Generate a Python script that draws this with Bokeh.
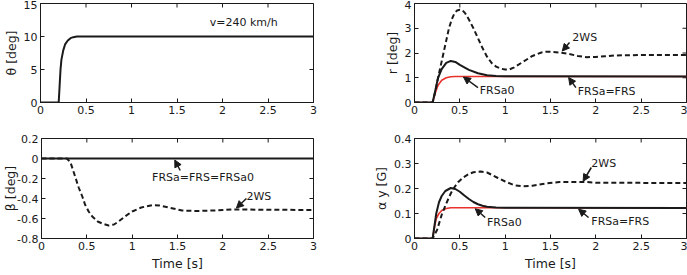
from bokeh.plotting import figure
from bokeh.layouts import column, row
from bokeh.models import Range1d, FixedTicker, Arrow, NormalHead, Label
from bokeh.embed import file_html
from bokeh.resources import INLINE

# ---------------- data ----------------
time_ticks = [0, 0.5, 1, 1.5, 2, 2.5, 3]
time_labels = ["0", "0.5", "1", "1.5", "2", "2.5", "3"]

theta_ticks = [0, 5, 10, 15]
theta_labels = ["0", "5", "10", "15"]
r_ticks = [0, 1, 2, 3, 4]
r_labels = ["0", "1", "2", "3", "4"]
beta_ticks = [0.2, 0, -0.2, -0.4, -0.6, -0.8]
beta_labels = ["0.2", "0", "-0.2", "-0.4", "-0.6", "-0.8"]
ay_ticks = [0, 0.1, 0.2, 0.3, 0.4]
ay_labels = ["0", "0.1", "0.2", "0.3", "0.4"]

# steering angle input
t_theta = [0, 0.2, 0.21, 0.22, 0.23, 0.25, 0.27, 0.30, 0.33, 0.36, 0.40, 0.45, 3.0]
theta = [0, 0, 2.5, 5.0, 6.5, 7.9, 8.8, 9.4, 9.75, 9.9, 10.0, 10.0, 10.0]

# yaw rate
t_r_2ws = [0, 0.2, 0.23, 0.26, 0.29, 0.32, 0.35, 0.38, 0.41, 0.44, 0.47, 0.5, 0.53,
           0.56, 0.6, 0.65, 0.7, 0.75, 0.8, 0.85, 0.9, 0.95, 1.0, 1.05, 1.1, 1.2,
           1.3, 1.4, 1.45, 1.5, 1.6, 1.7, 1.8, 1.9, 2.0, 2.1, 2.2, 2.5, 3.0]
r_2ws = [0, 0, 0.45, 1.0, 1.5, 2.0, 2.5, 3.0, 3.35, 3.6, 3.72, 3.75, 3.72,
         3.6, 3.35, 3.0, 2.6, 2.2, 1.85, 1.6, 1.45, 1.37, 1.33, 1.34, 1.42, 1.65,
         1.88, 2.02, 2.05, 2.05, 2.02, 1.97, 1.88, 1.83, 1.84, 1.87, 1.9, 1.92, 1.92]
t_r_frs = [0, 0.2, 0.23, 0.26, 0.3, 0.35, 0.4, 0.45, 0.5, 0.6, 0.7, 0.8, 0.9, 1.0, 3.0]
r_frs = [0, 0, 0.5, 1.0, 1.35, 1.6, 1.68, 1.64, 1.52, 1.32, 1.18, 1.1, 1.07, 1.06, 1.05]
t_r_frsa0 = [0, 0.2, 0.23, 0.26, 0.3, 0.35, 0.4, 0.45, 3.0]
r_frsa0 = [0, 0, 0.4, 0.7, 0.9, 1.0, 1.04, 1.05, 1.05]

# side slip angle
t_b_2ws = [0, 0.28, 0.32, 0.36, 0.41, 0.45, 0.48, 0.52, 0.56, 0.62, 0.67, 0.74, 0.8,
           0.85, 0.92, 1.0, 1.1, 1.22, 1.3, 1.4, 1.55, 1.7, 1.9, 2.0, 2.1, 3.0]
b_2ws = [0, 0, -0.04, -0.15, -0.29, -0.38, -0.46, -0.53, -0.58, -0.63, -0.65, -0.67, -0.66,
         -0.63, -0.58, -0.53, -0.49, -0.467, -0.47, -0.49, -0.52, -0.525, -0.52, -0.515, -0.51, -0.515]
t_b_frs = [0, 3.0]
b_frs = [0, 0]

# lateral acceleration
t_a_2ws = [0, 0.2, 0.25, 0.3, 0.35, 0.4, 0.43, 0.48, 0.54, 0.6, 0.65, 0.73, 0.8, 0.85,
           0.92, 1.0, 1.1, 1.2, 1.3, 1.45, 1.6, 1.9, 2.0, 3.0]
a_2ws = [0, 0, 0.035, 0.095, 0.14, 0.18, 0.2, 0.225, 0.245, 0.258, 0.265, 0.268, 0.264, 0.255,
         0.242, 0.228, 0.213, 0.209, 0.211, 0.22, 0.226, 0.226, 0.223, 0.222]
t_a_frs = [0, 0.2, 0.22, 0.24, 0.27, 0.3, 0.34, 0.4, 0.45, 0.5, 0.55, 0.6, 0.65, 0.7,
           0.75, 0.8, 0.9, 1.0, 3.0]
a_frs = [0, 0, 0.05, 0.1, 0.145, 0.17, 0.19, 0.202, 0.198, 0.187, 0.172, 0.158, 0.146, 0.137,
         0.131, 0.127, 0.124, 0.123, 0.122]
t_a_frsa0 = [0, 0.2, 0.22, 0.24, 0.27, 0.3, 0.35, 0.4, 3.0]
a_frsa0 = [0, 0, 0.045, 0.08, 0.1, 0.112, 0.12, 0.123, 0.123]

FONT = "DejaVu Sans"
INK = "#1a1a1a"
RED = "#e8322b"


def styled_axis(ax, ticks, labels):
    ax.ticker = FixedTicker(ticks=ticks)
    ax.major_label_overrides = {t: l for t, l in zip(ticks, labels)}
    ax.major_tick_in = 4
    ax.major_tick_out = 0
    ax.minor_tick_in = 0
    ax.minor_tick_out = 0
    ax.axis_line_color = INK
    ax.major_tick_line_color = INK
    ax.major_label_text_font = FONT
    ax.major_label_text_color = INK
    ax.major_label_text_font_size = "11px"
    ax.major_label_standoff = 3
    ax.axis_label_text_font = FONT
    ax.axis_label_text_font_style = "normal"
    ax.axis_label_text_color = INK


def make_panel(width, height, yr, yticks, ylabels, ylabel, xlabel, borders):
    left, right, top, bottom = borders
    p = figure(width=width, height=height, x_range=Range1d(0, 3), y_range=Range1d(*yr),
               output_backend="svg", toolbar_location=None,
               min_border_left=left, min_border_right=right,
               min_border_top=top, min_border_bottom=bottom)
    p.grid.visible = False
    p.outline_line_color = INK
    p.background_fill_color = "white"
    p.border_fill_color = "white"
    styled_axis(p.xaxis[0], time_ticks, time_labels)
    styled_axis(p.yaxis[0], yticks, ylabels)
    p.yaxis[0].axis_label = ylabel
    p.yaxis[0].axis_label_text_font_size = "12.5px"
    p.yaxis[0].axis_label_standoff = 2
    if xlabel:
        p.xaxis[0].axis_label = xlabel
        p.xaxis[0].axis_label_text_font_size = "12.5px"
        p.xaxis[0].axis_label_standoff = 3
    # inward tick marks on the top and right edges of the box (half falls outside and is clipped)
    p.scatter(time_ticks, [yr[1]] * len(time_ticks), marker="dash", angle=1.5708,
              size=8, line_color=INK, line_width=1)
    p.scatter([3] * len(yticks), yticks, marker="dash", size=8, line_color=INK, line_width=1)
    return p


def note(p, x, y, text):
    p.add_layout(Label(x=x, y=y, text=text, text_font=FONT, text_font_size="11px",
                       text_color=INK, text_baseline="middle", text_align="left"))


def pointer(p, x0, y0, x1, y1):
    p.add_layout(Arrow(x_start=x0, y_start=y0, x_end=x1, y_end=y1, line_width=1.5,
                       line_color=INK,
                       end=NormalHead(size=7, fill_color=INK, line_color=INK, line_width=1)))


# ---- steering angle ----
p1 = make_panel(340, 130, (0, 15), theta_ticks, theta_labels, "θ [deg]", None, (39, 27, 3, 28))
p1.line(t_theta, theta, line_color=INK, line_width=2)
note(p1, 1.86, 12.1, "v=240 km/h")

# ---- yaw rate ----
p2 = make_panel(347, 130, (0, 4), r_ticks, r_labels, "r [deg]", None, (74, 1, 3, 28))
p2.line(t_r_frsa0, r_frsa0, line_color=RED, line_width=1.6)
p2.line(t_r_frs, r_frs, line_color=INK, line_width=2)
p2.line(t_r_2ws, r_2ws, line_color=INK, line_width=2, line_dash="5 3")
note(p2, 1.74, 2.63, "2WS")
pointer(p2, 1.71, 2.42, 1.63, 2.08)
note(p2, 0.72, 0.48, "FRSa0")
pointer(p2, 0.70, 0.60, 0.54, 1.03)
note(p2, 1.80, 0.44, "FRSa=FRS")
pointer(p2, 1.78, 0.60, 1.70, 1.01)

# ---- side slip angle ----
p3 = make_panel(340, 145, (-0.8, 0.2), beta_ticks, beta_labels, "β [deg]", "Time [s]", (39, 27, 8, 37))
p3.yaxis[0].axis_label_standoff = -4
p3.line(t_b_frs, b_frs, line_color=INK, line_width=2)
p3.line(t_b_2ws, b_2ws, line_color=INK, line_width=2, line_dash="5 3")
note(p3, 1.22, -0.187, "FRSa=FRS=FRSa0")
pointer(p3, 1.53, -0.12, 1.47, -0.015)
note(p3, 2.26, -0.377, "2WS")
pointer(p3, 2.26, -0.40, 2.15, -0.495)

# ---- lateral acceleration ----
p4 = make_panel(347, 145, (0, 0.4), ay_ticks, ay_labels, "α y [G]", "Time [s]", (74, 1, 8, 37))
p4.line(t_a_frsa0, a_frsa0, line_color=RED, line_width=1.6)
p4.line(t_a_frs, a_frs, line_color=INK, line_width=2)
p4.line(t_a_2ws, a_2ws, line_color=INK, line_width=2, line_dash="5 3")
note(p4, 1.95, 0.30, "2WS")
pointer(p4, 1.95, 0.284, 1.86, 0.229)
note(p4, 0.80, 0.065, "FRSa0")
pointer(p4, 0.78, 0.084, 0.67, 0.119)
note(p4, 1.95, 0.068, "FRSa=FRS")
pointer(p4, 1.92, 0.084, 1.81, 0.117)

layout = column(row(p1, p2), row(p3, p4))
open("out.html", "w").write(file_html(layout, INLINE))
